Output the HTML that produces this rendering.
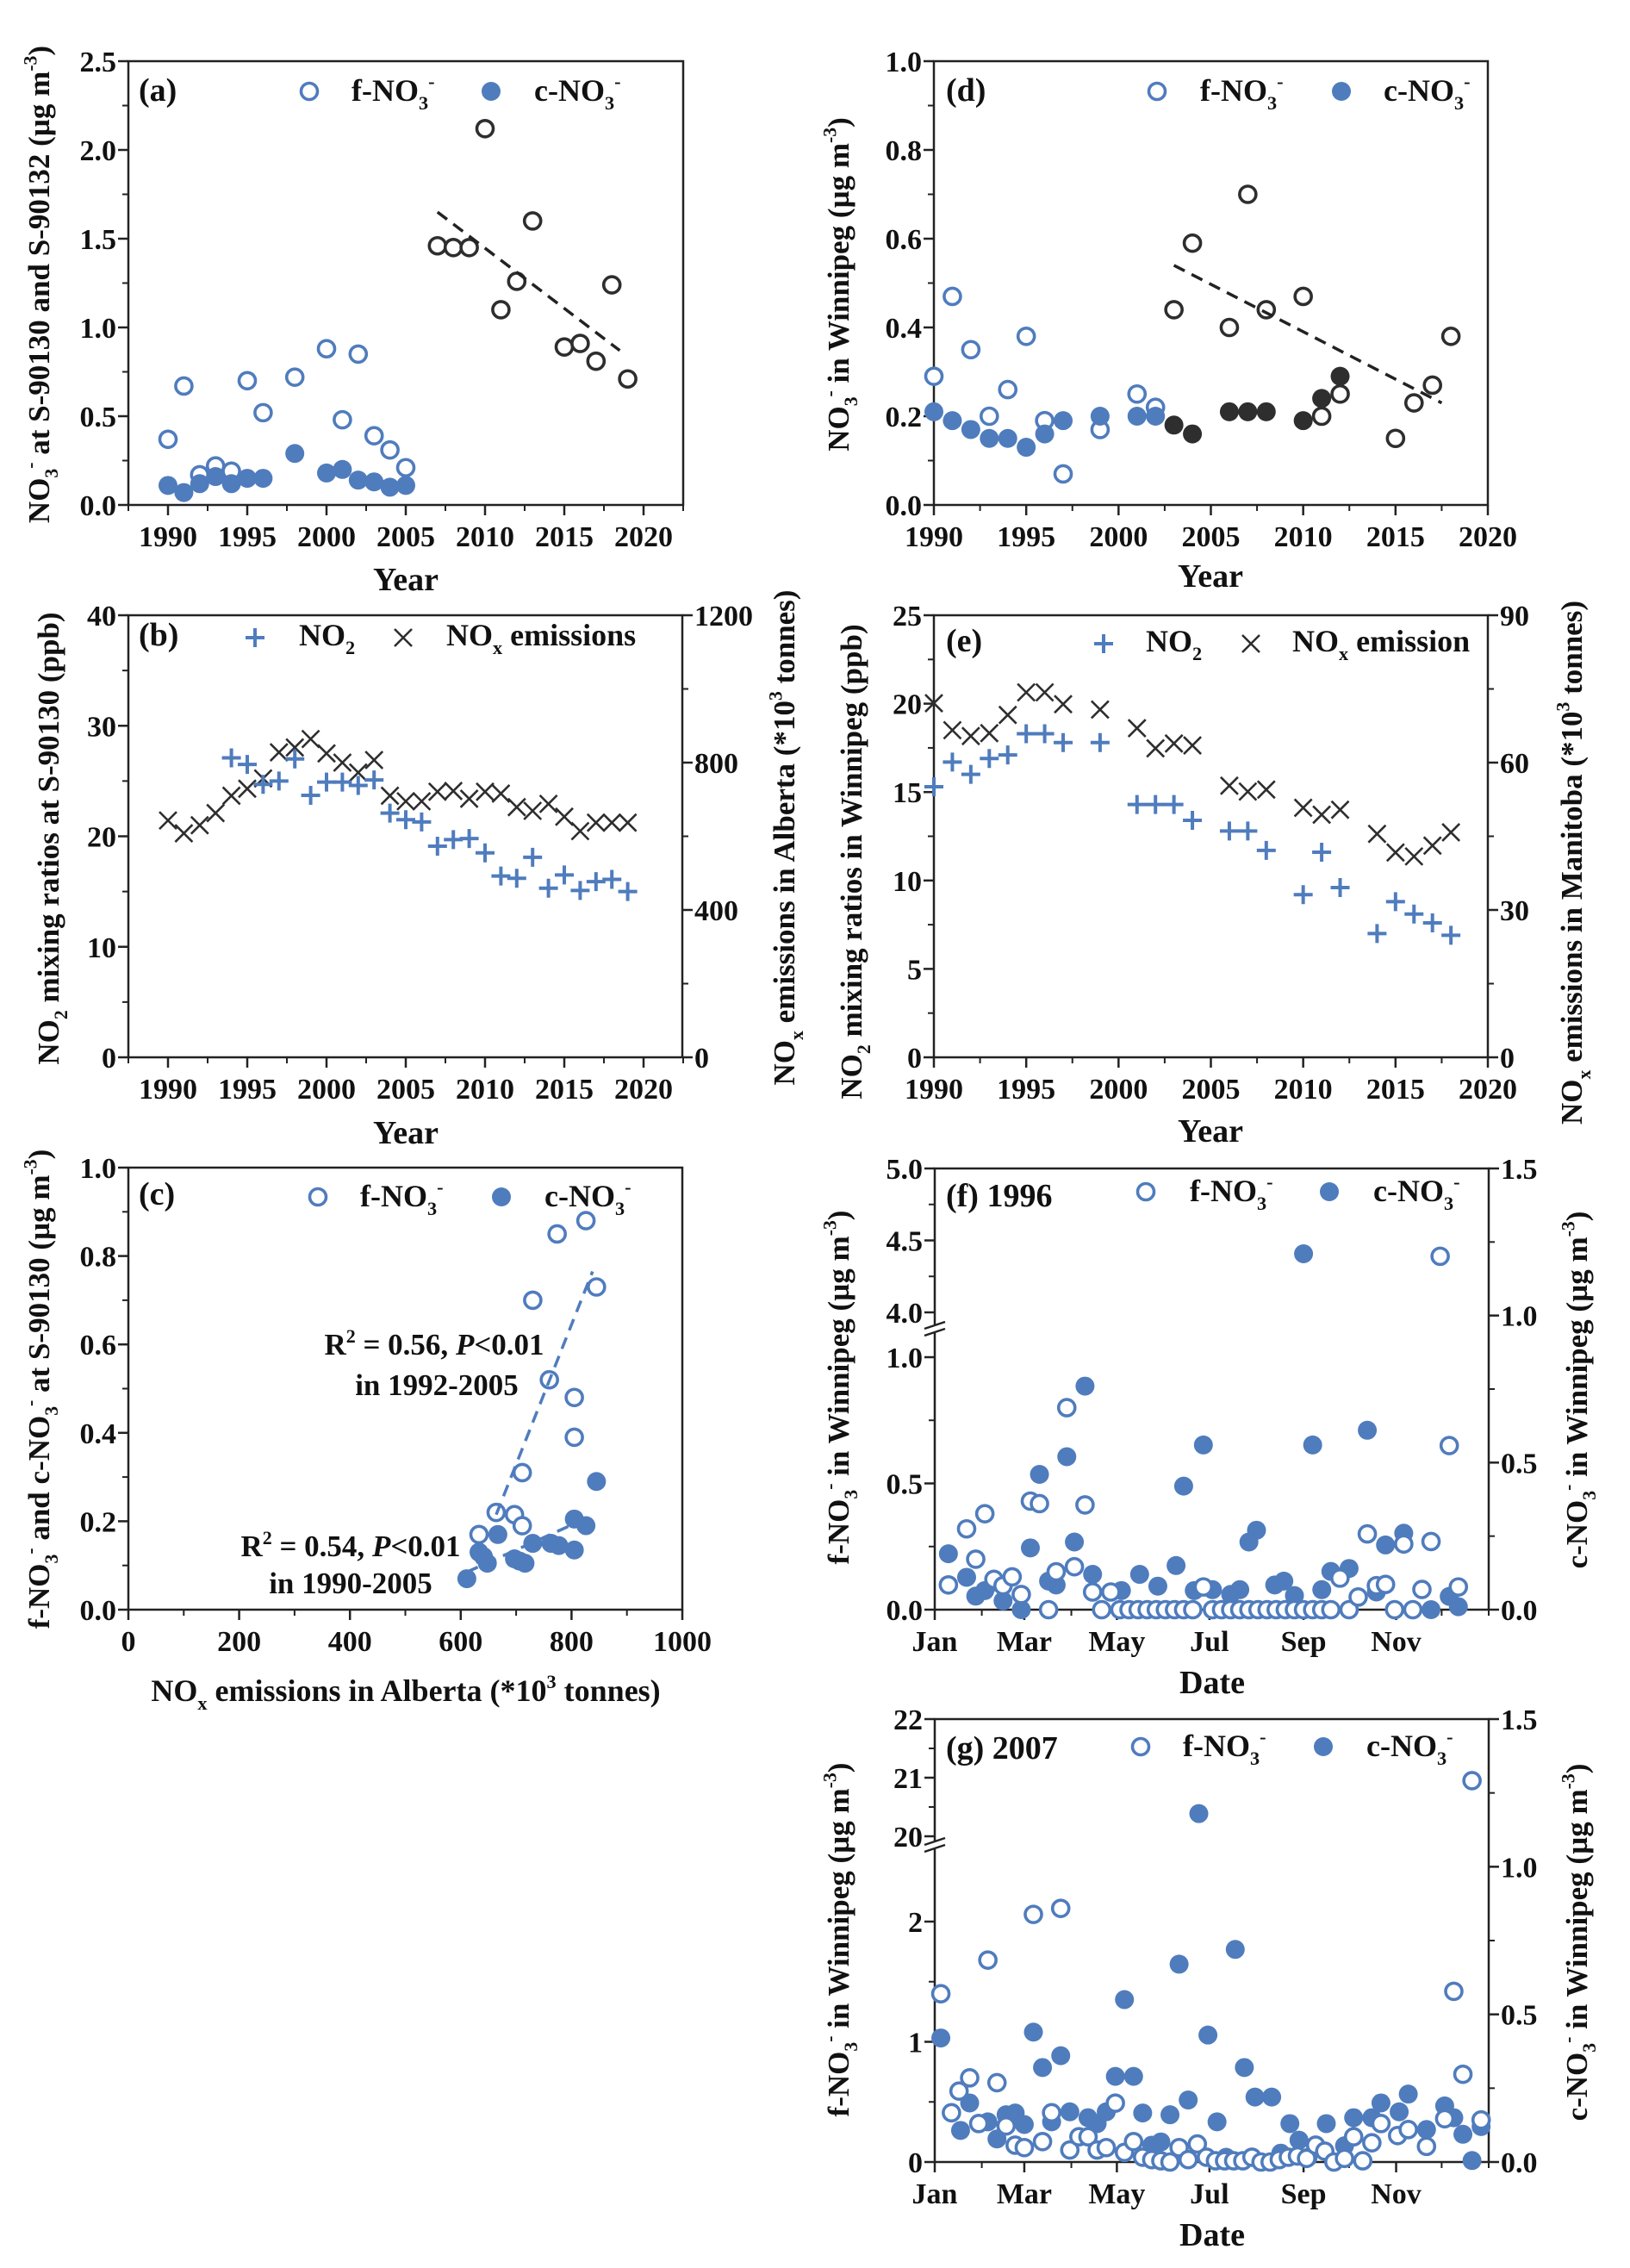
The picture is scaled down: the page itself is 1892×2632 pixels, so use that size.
<!DOCTYPE html>
<html><head><meta charset="utf-8"><title>Nitrate panels</title>
<style>
html,body{margin:0;padding:0;background:#fff;}
svg{display:block;font-family:"Liberation Serif",serif;font-weight:bold;}
</style></head>
<body>
<svg id="fig" xmlns="http://www.w3.org/2000/svg" width="1892" height="2632" viewBox="0 0 1892 2632">
<rect x="0" y="0" width="1892" height="2632" fill="#fff"/>
</svg>
<script>
// ---------- Panel (a) data ----------
const aYearsF = [1990,1991,1992,1993,1994,1995,1996,1998,2000,2001,2002,2003,2004,2005];
const aF = [0.37,0.67,0.17,0.22,0.19,0.70,0.52,0.72,0.88,0.48,0.85,0.39,0.31,0.21];
const aC = [0.11,0.07,0.12,0.16,0.12,0.15,0.15,0.29,0.18,0.20,0.14,0.13,0.10,0.11];
const aYearsK = [2007,2008,2009,2010,2011,2012,2013,2015,2016,2017,2018,2019];
const aK = [1.46,1.45,1.45,2.12,1.10,1.26,1.60,0.89,0.91,0.81,1.24,0.71];
const aTrendX = [2007,2018.5];
const aTrendY = [1.65,0.87];
const aYTicks = [0,0.5,1.0,1.5,2.0,2.5];
const aYLabels = ["0.0","0.5","1.0","1.5","2.0","2.5"];
const yearTicks = [1990,1995,2000,2005,2010,2015,2020];
const yearLabels = ["1990","1995","2000","2005","2010","2015","2020"];
// ---------- Panel (d) data ----------
const dYearsB = [1990,1991,1992,1993,1994,1995,1996,1997,1999,2001,2002];
const dF = [0.29,0.47,0.35,0.20,0.26,0.38,0.19,0.07,0.17,0.25,0.22];
const dC = [0.21,0.19,0.17,0.15,0.15,0.13,0.16,0.19,0.20,0.20,0.20];
const dYearsK = [2003,2004,2006,2007,2008,2010,2011,2012,2015,2016,2017,2018];
const dFK = [0.44,0.59,0.40,0.70,0.44,0.47,0.20,0.25,0.15,0.23,0.27,0.38];
const dYearsKC = [2003,2004,2006,2007,2008,2010,2011,2012];
const dCK = [0.18,0.16,0.21,0.21,0.21,0.19,0.24,0.29];
const dTrendX = [2003,2017.5];
const dTrendY = [0.54,0.23];
const dYTicks = [0,0.2,0.4,0.6,0.8,1.0];
const dYLabels = ["0.0","0.2","0.4","0.6","0.8","1.0"];
// ---------- Panel (b) data ----------
const bYearsNO2 = [1994,1995,1996,1997,1998,1999,2000,2001,2002,2003,2004,2005,2006,2007,2008,2009,2010,2011,2012,2013,2014,2015,2016,2017,2018,2019];
const bNO2 = [27.1,26.5,24.7,25.0,27.0,23.7,24.9,24.9,24.6,25.1,22.1,21.5,21.3,19.1,19.7,19.8,18.5,16.4,16.2,18.1,15.3,16.5,15.1,15.9,16.1,15.0];
const bYearsNOx = [1990,1991,1992,1993,1994,1995,1996,1997,1998,1999,2000,2001,2002,2003,2004,2005,2006,2007,2008,2009,2010,2011,2012,2013,2014,2015,2016,2017,2018,2019];
const bNOx = [643,608,630,663,710,729,757,828,841,864,825,800,773,807,710,695,695,721,723,702,721,716,679,669,688,653,614,637,637,637];
const bLTicks = [0,10,20,30,40];
const bRTicks = [0,400,800,1200];
// ---------- Panel (e) data ----------
const eYears = [1990,1991,1992,1993,1994,1995,1996,1997,1999,2001,2002,2003,2004,2006,2007,2008,2010,2011,2012,2014,2015,2016,2017,2018];
const eNO2 = [15.3,16.7,16.0,16.9,17.1,18.3,18.3,17.8,17.8,14.3,14.3,14.3,13.4,12.8,12.8,11.7,9.2,11.6,9.6,7.0,8.8,8.1,7.6,6.9];
const eNOx = [72.1,66.6,65.4,66.0,69.7,74.3,74.3,71.9,70.8,67.0,62.9,63.9,63.5,55.3,54.1,54.5,50.8,49.4,50.4,45.5,41.7,40.9,43.1,45.8];
const eLTicks = [0,5,10,15,20,25];
const eRTicks = [0,30,60,90];
// ---------- Panel (c) data ----------
const cFX = [633,664,697,711,711,730,760,774,805,805,826,845];
const cFY = [0.17,0.22,0.215,0.19,0.31,0.70,0.52,0.85,0.48,0.39,0.88,0.73];
const cCX = [611,633,641,648,667,697,706,716,730,763,777,805,805,826,845];
const cCY = [0.07,0.13,0.12,0.105,0.17,0.115,0.11,0.105,0.15,0.15,0.145,0.135,0.205,0.19,0.29];
const cFLineX = [664,838];
const cFLineY = [0.215,0.765];
const cCLineX = [611,815];
const cCLineY = [0.085,0.20];
const cXTicks = [0,200,400,600,800,1000];
const cYTicks = [0,0.2,0.4,0.6,0.8,1.0];
const cYLabels = ["0.0","0.2","0.4","0.6","0.8","1.0"];
// ---------- Panel (f) data ----------
const fDaysF = [9,21,27,33,39,45,51,57,63,69,75,80,87,92,99,104,110,116,122,128,134,140,146,152,158,164,170,177,183,189,195,201,207,213,219,225,231,237,243,249,255,261,267,273,279,285,291,297,303,309,315,321,327,333,339,345];
const fValF = [0.098,0.32,0.20,0.38,0.12,0.095,0.13,0.06,0.43,0.42,0,0.15,0.80,0.17,0.415,0.07,0,0.07,0,0,0,0,0,0,0,0,0,0.09,0,0,0,0,0,0,0,0,0,0,0,0,0,0,0.125,0,0.05,0.30,0.095,0.10,0,0.26,0,0.08,0.27,4.39,0.65,0.09];
const fDaysC = [9,21,27,33,39,45,57,63,69,75,80,87,92,99,104,123,135,147,159,164,171,177,183,195,201,207,212,224,230,237,243,249,255,261,273,285,291,297,309,327,339,345];
const fValC = [0.19,0.11,0.046,0.065,0.094,0.03,0,0.21,0.46,0.097,0.084,0.52,0.23,0.76,0.12,0.065,0.12,0.08,0.15,0.42,0.065,0.56,0.068,0.052,0.068,0.23,0.27,0.084,0.097,0.048,1.21,0.56,0.068,0.13,0.14,0.61,0.06,0.22,0.26,0,0.045,0.01];
const monthDays = [0,59,120,181,243,304];
const monthLabels = ["Jan","Mar","May","Jul","Sep","Nov"];
const monthMinor = [31,90,151,212,273,334,365];
// ---------- Panel (g) data ----------
const gDaysF = [4,11,16,23,29,35,41,47,53,59,65,71,77,83,89,95,101,107,113,119,125,131,137,143,149,155,161,167,173,179,185,191,197,203,209,215,221,227,233,239,245,251,257,263,270,276,282,288,294,305,312,324,336,342,348,354,360];
const gValF = [1.40,0.41,0.59,0.70,0.32,1.68,0.66,0.30,0.14,0.12,2.06,0.17,0.41,2.11,0.10,0.21,0.21,0.10,0.12,0.49,0.08,0.17,0.04,0.02,0.01,0,0.12,0.02,0.15,0.04,0.01,0.01,0.01,0.01,0.04,0,0,0.02,0.04,0.05,0.03,0.14,0.09,0,0.03,0.21,0.01,0.16,0.32,0.22,0.27,0.13,0.36,1.42,0.73,20.95,0.35];
const gDaysC = [4,11,17,23,29,35,41,47,53,59,65,71,77,83,89,101,107,113,119,125,131,137,143,149,155,161,167,174,180,186,192,198,204,211,222,228,234,240,246,258,270,276,288,294,306,312,324,336,342,348,354,360];
const gValC = [0.42,0.166,0.107,0.20,0.13,0.136,0.078,0.16,0.166,0.127,0.44,0.32,0.136,0.36,0.17,0.15,0.13,0.17,0.29,0.55,0.29,0.166,0.057,0.068,0.16,0.67,0.21,1.18,0.43,0.136,0.016,0.72,0.32,0.22,0.22,0.03,0.13,0.074,0.016,0.13,0.055,0.15,0.15,0.20,0.17,0.23,0.11,0.19,0.15,0.094,0.005,0.12];

// ---------- helpers ----------
const NS = "http://www.w3.org/2000/svg";
const svg = document.getElementById('fig');
const BLUE = "#4f7cbd", DARK = "#2e2e2e", AX = "#222";
function el(tag, attrs, parent){
  const e = document.createElementNS(NS, tag);
  for (const k in attrs) e.setAttribute(k, attrs[k]);
  (parent || svg).appendChild(e);
  return e;
}
function lin(d0,d1,r0,r1){ return v => r0 + (v-d0)*(r1-r0)/(d1-d0); }
function rich(parent, str, x, y, fs, anchor, rot){
  const t = el('text', {x:x, y:y, 'font-size':fs, 'text-anchor':anchor||'start', fill:'#111'}, parent);
  if (rot) t.setAttribute('transform', 'rotate(-90 '+x+' '+y+')');
  const toks = str.split(/(_\{[^}]*\}|\^\{[^}]*\})/).filter(s => s.length);
  let base = 0;
  toks.forEach(tk => {
    const ts = document.createElementNS(NS, 'tspan');
    let txt = tk, nb = 0, small = false;
    if (tk.startsWith('_{')) { txt = tk.slice(2,-1); nb = 0.28*fs; small = true; }
    else if (tk.startsWith('^{')) { txt = tk.slice(2,-1); nb = -0.42*fs; small = true; }
    ts.setAttribute('dy', (nb - base).toFixed(1));
    if (small) ts.setAttribute('font-size', (0.62*fs).toFixed(1));
    base = nb;
    ts.textContent = txt;
    t.appendChild(ts);
  });
  return t;
}
function frame(g, x0, x1, y0, y1){
  el('rect', {x:x0, y:y0, width:x1-x0, height:y1-y0, fill:'none', stroke:AX, 'stroke-width':2.5}, g);
}
function xTicks(g, vals, labels, sx, y1, minor){
  vals.forEach((v,i) => {
    const x = sx(v);
    el('line', {x1:x, x2:x, y1:y1, y2:y1+12, stroke:AX, 'stroke-width':2.5}, g);
    const t = el('text', {x:x, y:y1+48, 'font-size':34, 'text-anchor':'middle', fill:'#111'}, g);
    t.textContent = labels[i];
  });
  (minor||[]).forEach(v => {
    const x = sx(v);
    el('line', {x1:x, x2:x, y1:y1, y2:y1+7, stroke:AX, 'stroke-width':2}, g);
  });
}
function yTicks(g, vals, labels, sy, x0, side, minor){
  const d = side === 'right' ? 1 : -1;
  vals.forEach((v,i) => {
    const y = sy(v);
    el('line', {x1:x0, x2:x0+12*d, y1:y, y2:y, stroke:AX, 'stroke-width':2.5}, g);
    const t = el('text', {x:x0+d*(side==='right'?14:14), y:y+12, 'font-size':34, 'text-anchor':side==='right'?'start':'end', fill:'#111'}, g);
    t.textContent = labels[i];
  });
  (minor||[]).forEach(v => {
    const y = sy(v);
    el('line', {x1:x0, x2:x0+7*d, y1:y, y2:y, stroke:AX, 'stroke-width':2}, g);
  });
}
function openC(g, x, y, col, name){
  const c = el('circle', {cx:x, cy:y, r:9.5, fill:'#fff', stroke:col, 'stroke-width':3.6}, g);
  
  
}
function fillC(g, x, y, col, name){
  const c = el('circle', {cx:x, cy:y, r:11, fill:col}, g);
  
  
}
function plusM(g, x, y, name){
  const p = el('path', {d:'M'+(x-11)+' '+y+'H'+(x+11)+'M'+x+' '+(y-11)+'V'+(y+11), stroke:BLUE, 'stroke-width':4, fill:'none'}, g);
  
  
}
function crossM(g, x, y, name){
  const p = el('path', {d:'M'+(x-10)+' '+(y-10)+'L'+(x+10)+' '+(y+10)+'M'+(x+10)+' '+(y-10)+'L'+(x-10)+' '+(y+10), stroke:DARK, 'stroke-width':2.6, fill:'none'}, g);
  
  
}
function dashLine(g, xs, ys, sx, sy, col, name){
  const l = el('line', {x1:sx(xs[0]), y1:sy(ys[0]), x2:sx(xs[1]), y2:sy(ys[1]), stroke:col, 'stroke-width':3.5, 'stroke-dasharray':'14 9'}, g);
  
  
}
function panel(name){
  const g = el('g', {});
  
  
  return g;
}
function lbl(g, txt, x, y, fs, anchor, rot){ return rich(g, txt, x, y, fs||36, anchor, rot); }
function legendCircles(g, xo, xt, xf, xt2, y){
  openC(g, xo, y, BLUE, 'legend-f-marker');
  lbl(g, 'f-NO_{3}^{-}', xt, y+11, 36);
  fillC(g, xf, y, BLUE, 'legend-c-marker');
  lbl(g, 'c-NO_{3}^{-}', xt2, y+11, 36);
}

// ---------- Panel (a) ----------
(function(){
  const g = panel('panel-a');
  const sx = lin(1990,2020,195,747), sy = lin(0,2.5,586,71);
  frame(g,149,793,71,586);
  xTicks(g, yearTicks, yearLabels, sx, 586, [1987.5,1992.5,1997.5,2002.5,2007.5,2012.5,2017.5,2022.5]);
  yTicks(g, aYTicks, aYLabels, sy, 149, 'left', [0.25,0.75,1.25,1.75,2.25]);
  aYearsF.forEach((yr,i)=>openC(g, sx(yr), sy(aF[i]), BLUE, 'f-no3-point'));
  aYearsF.forEach((yr,i)=>fillC(g, sx(yr), sy(aC[i]), BLUE, 'c-no3-point'));
  aYearsK.forEach((yr,i)=>openC(g, sx(yr), sy(aK[i]), DARK, 'no3-s90132-point'));
  dashLine(g, aTrendX, aTrendY, sx, sy, '#222', 'trend-line');
  lbl(g, '(a)', 161, 117, 38);
  legendCircles(g, 359, 408, 570, 620, 106);
  lbl(g, 'Year', 471, 685, 38, 'middle');
  lbl(g, 'NO_{3}^{-} at S-90130 and S-90132 (µg m^{-3})', 57, 330, 35, 'middle', true);
})();

// ---------- Panel (d) ----------
(function(){
  const g = panel('panel-d');
  const sx = lin(1990,2020,1084,1727), sy = lin(0,1,586,71);
  frame(g,1084,1727,71,586);
  xTicks(g, yearTicks, yearLabels, sx, 586, [1992.5,1997.5,2002.5,2007.5,2012.5,2017.5]);
  yTicks(g, dYTicks, dYLabels, sy, 1084, 'left', [0.1,0.3,0.5,0.7,0.9]);
  dYearsB.forEach((yr,i)=>openC(g, sx(yr), sy(dF[i]), BLUE, 'f-no3-point'));
  dYearsB.forEach((yr,i)=>fillC(g, sx(yr), sy(dC[i]), BLUE, 'c-no3-point'));
  dYearsK.forEach((yr,i)=>openC(g, sx(yr), sy(dFK[i]), DARK, 'f-no3-later-point'));
  dYearsKC.forEach((yr,i)=>fillC(g, sx(yr), sy(dCK[i]), DARK, 'c-no3-later-point'));
  dashLine(g, dTrendX, dTrendY, sx, sy, '#222', 'trend-line');
  lbl(g, '(d)', 1098, 117, 38);
  legendCircles(g, 1343, 1393, 1557, 1606, 106);
  lbl(g, 'Year', 1405, 681, 38, 'middle');
  lbl(g, 'NO_{3}^{-} in Winnipeg (µg m^{-3})', 985, 330, 35, 'middle', true);
})();

// ---------- Panel (b) ----------
(function(){
  const g = panel('panel-b');
  const sx = lin(1990,2020,195,747), sl = lin(0,40,1227,714), sr = lin(0,1200,1227,714);
  frame(g,149,792,714,1227);
  xTicks(g, yearTicks, yearLabels, sx, 1227, [1987.5,1992.5,1997.5,2002.5,2007.5,2012.5,2017.5,2022.5]);
  yTicks(g, bLTicks, bLTicks.map(String), sl, 149, 'left', [5,15,25,35]);
  yTicks(g, bRTicks, bRTicks.map(String), sr, 792, 'right', [200,600,1000]);
  bYearsNOx.forEach((yr,i)=>crossM(g, sx(yr), sr(bNOx[i]), 'nox-emission-point'));
  bYearsNO2.forEach((yr,i)=>plusM(g, sx(yr), sl(bNO2[i]), 'no2-point'));
  lbl(g, '(b)', 161, 749, 38);
  plusM(g, 296, 740, 'legend-no2-marker');
  lbl(g, 'NO_{2}', 347, 749, 36);
  crossM(g, 468, 740, 'legend-nox-marker');
  lbl(g, 'NO_{x} emissions', 518, 749, 36);
  lbl(g, 'Year', 471, 1327, 38, 'middle');
  lbl(g, 'NO_{2} mixing ratios at S-90130 (ppb)', 68, 973, 35, 'middle', true);
  lbl(g, 'NO_{x} emissions in Alberta (*10^{3} tonnes)', 922, 972, 35, 'middle', true);
})();

// ---------- Panel (e) ----------
(function(){
  const g = panel('panel-e');
  const sx = lin(1990,2020,1084,1727), sl = lin(0,25,1227,714), sr = lin(0,90,1227,714);
  frame(g,1084,1727,714,1227);
  xTicks(g, yearTicks, yearLabels, sx, 1227, [1992.5,1997.5,2002.5,2007.5,2012.5,2017.5]);
  yTicks(g, eLTicks, eLTicks.map(String), sl, 1084, 'left', [2.5,7.5,12.5,17.5,22.5]);
  yTicks(g, eRTicks, eRTicks.map(String), sr, 1727, 'right', [15,45,75]);
  eYears.forEach((yr,i)=>crossM(g, sx(yr), sr(eNOx[i]), 'nox-emission-point'));
  eYears.forEach((yr,i)=>plusM(g, sx(yr), sl(eNO2[i]), 'no2-point'));
  lbl(g, '(e)', 1098, 756, 38);
  plusM(g, 1281, 747, 'legend-no2-marker');
  lbl(g, 'NO_{2}', 1330, 756, 36);
  crossM(g, 1452, 747, 'legend-nox-marker');
  lbl(g, 'NO_{x} emission', 1500, 756, 36);
  lbl(g, 'Year', 1405, 1325, 38, 'middle');
  lbl(g, 'NO_{2} mixing ratios in Winnipeg (ppb)', 1000, 1000, 35, 'middle', true);
  lbl(g, 'NO_{x} emissions in Manitoba (*10^{3} tonnes)', 1836, 1001, 35, 'middle', true);
})();

// ---------- Panel (c) ----------
(function(){
  const g = panel('panel-c');
  const sx = lin(0,1000,149,792), sy = lin(0,1,1868,1355);
  frame(g,149,792,1355,1868);
  xTicks(g, cXTicks, cXTicks.map(String), sx, 1868, [100,300,500,700,900]);
  yTicks(g, cYTicks, cYLabels, sy, 149, 'left', [0.1,0.3,0.5,0.7,0.9]);
  cFX.forEach((x,i)=>openC(g, sx(x), sy(cFY[i]), BLUE, 'f-no3-point'));
  cCX.forEach((x,i)=>fillC(g, sx(x), sy(cCY[i]), BLUE, 'c-no3-point'));
  dashLine(g, cFLineX, cFLineY, sx, sy, BLUE, 'f-no3-regression-line');
  dashLine(g, cCLineX, cCLineY, sx, sy, BLUE, 'c-no3-regression-line');
  lbl(g, '(c)', 161, 1398, 38);
  legendCircles(g, 369, 418, 582, 632, 1389);
  const t1 = el('text', {x:504, y:1572, 'font-size':35, 'text-anchor':'middle', fill:'#111'}, g);
  t1.innerHTML = 'R<tspan dy="-14" font-size="22">2</tspan><tspan dy="14"> = 0.56, </tspan><tspan font-style="italic">P</tspan>&lt;0.01';
  lbl(g, 'in 1992-2005', 507, 1619, 35, 'middle');
  const t2 = el('text', {x:407, y:1806, 'font-size':35, 'text-anchor':'middle', fill:'#111'}, g);
  t2.innerHTML = 'R<tspan dy="-14" font-size="22">2</tspan><tspan dy="14"> = 0.54, </tspan><tspan font-style="italic">P</tspan>&lt;0.01';
  lbl(g, 'in 1990-2005', 407, 1849, 35, 'middle');
  lbl(g, 'NO_{x} emissions in Alberta (*10^{3} tonnes)', 471, 1974, 36, 'middle');
  lbl(g, 'f-NO_{3}^{-} and c-NO_{3}^{-} at S-90130 (µg m^{-3})', 57, 1612, 35, 'middle', true);
})();

// ---------- broken-axis helper ----------
function breakMarks(g, x, yTop, yBot){
  el('rect', {x:x-4, y:yTop, width:8, height:yBot-yTop, fill:'#fff'}, g);
  el('line', {x1:x-12, y1:yTop+5, x2:x+12, y2:yTop-3, stroke:AX, 'stroke-width':2.5}, g);
  el('line', {x1:x-12, y1:yBot+3, x2:x+12, y2:yBot-5, stroke:AX, 'stroke-width':2.5}, g);
}

// ---------- Panel (f) ----------
(function(){
  const g = panel('panel-f');
  const sx = lin(0,365,1085,1728);
  const low = lin(0,1,1868,1575), up = lin(4,5,1523,1356), sr = lin(0,1.5,1868,1356);
  const sy = v => v > 2 ? up(v) : low(v);
  frame(g,1085,1728,1356,1868);
  breakMarks(g, 1085, 1537, 1547);
  xTicks(g, monthDays, monthLabels, sx, 1868, monthMinor);
  yTicks(g, [0,0.5,1.0,4.0,4.5,5.0], ["0.0","0.5","1.0","4.0","4.5","5.0"], sy, 1085, 'left', [0.25,0.75,4.25,4.75]);
  yTicks(g, [0,0.5,1.0,1.5], ["0.0","0.5","1.0","1.5"], sr, 1728, 'right', [0.25,0.75,1.25]);
  fDaysC.forEach((d,i)=>fillC(g, sx(d), sr(fValC[i]), BLUE, 'c-no3-point'));
  fDaysF.forEach((d,i)=>openC(g, sx(d), sy(fValF[i]), BLUE, 'f-no3-point'));
  lbl(g, '(f) 1996', 1098, 1400, 38);
  legendCircles(g, 1330, 1381, 1543, 1594, 1383);
  lbl(g, 'Date', 1407, 1965, 38, 'middle');
  lbl(g, 'f-NO_{3}^{-} in Winnipeg (µg m^{-3})', 985, 1610, 35, 'middle', true);
  lbl(g, 'c-NO_{3}^{-} in Winnipeg (µg m^{-3})', 1842, 1613, 35, 'middle', true);
})();

// ---------- Panel (g) ----------
(function(){
  const g = panel('panel-g');
  const sx = lin(0,365,1085,1728);
  const low = lin(0,2,2509,2230), up = lin(20,22,2131,1995), sr = lin(0,1.5,2509,1995);
  const sy = v => v > 10 ? up(v) : low(v);
  frame(g,1085,1728,1995,2509);
  breakMarks(g, 1085, 2136, 2146);
  xTicks(g, monthDays, monthLabels, sx, 2509, monthMinor);
  yTicks(g, [0,1,2,20,21,22], ["0","1","2","20","21","22"], sy, 1085, 'left', [0.5,1.5,20.5,21.5]);
  yTicks(g, [0,0.5,1.0,1.5], ["0.0","0.5","1.0","1.5"], sr, 1728, 'right', [0.25,0.75,1.25]);
  gDaysC.forEach((d,i)=>fillC(g, sx(d), sr(gValC[i]), BLUE, 'c-no3-point'));
  gDaysF.forEach((d,i)=>openC(g, sx(d), sy(gValF[i]), BLUE, 'f-no3-point'));
  lbl(g, '(g) 2007', 1098, 2041, 38);
  legendCircles(g, 1324, 1373, 1536, 1586, 2027);
  lbl(g, 'Date', 1407, 2606, 38, 'middle');
  lbl(g, 'f-NO_{3}^{-} in Winnipeg (µg m^{-3})', 985, 2251, 35, 'middle', true);
  lbl(g, 'c-NO_{3}^{-} in Winnipeg (µg m^{-3})', 1842, 2254, 35, 'middle', true);
})();
</script>
</body></html>
